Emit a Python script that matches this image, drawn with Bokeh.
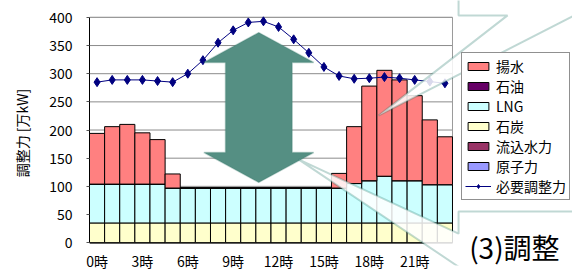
from bokeh.plotting import figure
from bokeh.models import (ColumnDataSource, FixedTicker, Legend, LegendItem,
                          PolyAnnotation, Label, Range1d)
from bokeh.embed import file_html
from bokeh.resources import INLINE

# ---- data ----
hours = [0, 1, 2, 3, 4, 5, 6, 7, 8, 9, 10, 11, 12, 13, 14, 15, 16, 17, 18, 19, 20, 21, 22, 23]
tick_hours = [0, 3, 6, 9, 12, 15, 18, 21]
tick_labels = ["0時", "3時", "6時", "9時", "12時", "15時", "18時", "21時"]
y_ticks = [0, 50, 100, 150, 200, 250, 300, 350, 400]

nuclear = [0, 0, 0, 0, 0, 0, 0, 0, 0, 0, 0, 0, 0, 0, 0, 0, 0, 0, 0, 0, 0, 0, 0, 0]        # 原子力
run_river = [0, 0, 0, 0, 0, 0, 0, 0, 0, 0, 0, 0, 0, 0, 0, 0, 0, 0, 0, 0, 0, 0, 0, 0]      # 流込水力
coal = [35, 35, 35, 35, 35, 35, 35, 35, 35, 35, 35, 35, 35, 35, 35, 35, 35, 35, 35, 35, 35, 35, 35, 35]  # 石炭
lng = [69, 69, 69, 69, 69, 62, 62, 62, 62, 62, 62, 62, 62, 62, 62, 62, 62, 70, 75, 83, 75, 75, 68, 68]  # LNG
oil = [0, 0, 0, 0, 0, 0, 0, 0, 0, 0, 0, 0, 0, 0, 0, 0, 0, 0, 0, 0, 0, 0, 0, 0]            # 石油
pumped = [90, 102, 106, 91, 79, 25, 0, 0, 0, 0, 0, 0, 0, 0, 0, 0, 26, 101, 168, 188, 179, 151, 115, 85]  # 揚水
required = [285, 289, 289, 289, 287, 285, 300, 324, 355, 377, 391, 393, 383, 361, 337, 312,
            296, 291, 292, 294, 292, 289, 286, 283]  # 必要調整力

series_names = ["原子力", "流込水力", "石炭", "LNG", "石油", "揚水"]
series_colors = ["#9999FF", "#993366", "#FFFFCC", "#CCFFFF", "#660066", "#FF8080"]

FONT = "Noto Sans CJK JP"

src = ColumnDataSource(dict(hour=hours, 原子力=nuclear, 流込水力=run_river, 石炭=coal,
                            LNG=lng, 石油=oil, 揚水=pumped, required=required))

# frame extends to the right/top/bottom edges so the overlays are not clipped;
# ranges are chosen so that the bar area sits where it does in the reference.
p = figure(width=572, height=273, output_backend="svg", toolbar_location=None,
           x_range=Range1d(-0.5, 31.434), y_range=Range1d(-40.53, 429.96),
           min_border_left=89, min_border_right=0, min_border_top=0, min_border_bottom=6)
p.background_fill_color = "white"
p.border_fill_color = "white"
p.outline_line_color = None
p.xgrid.grid_line_color = None
p.ygrid.grid_line_color = None

x_left = hours[0] - 0.5
x_right = hours[-1] + 0.5

# gridlines and plot-area border
p.segment(x0=[x_left] * len(y_ticks), x1=[x_right] * len(y_ticks), y0=y_ticks, y1=y_ticks,
          line_color="#8c8c8c", line_width=1)
p.quad(left=[x_left], right=[x_right], bottom=[y_ticks[0]], top=[y_ticks[-1]],
       fill_color=None, line_color="#9a9a9a", line_width=1)

bars = p.vbar_stack(series_names, x="hour", width=1, color=series_colors,
                    line_color="black", line_width=1, source=src)
line_r = p.line("hour", "required", source=src, line_color="#000080", line_width=1)
pts_r = p.scatter("hour", "required", source=src, marker="diamond", size=9,
                  fill_color="#000080", line_color="#000080")

# axes
p.xaxis.ticker = FixedTicker(ticks=tick_hours)
p.xaxis.major_label_overrides = {h: t for h, t in zip(tick_hours, tick_labels)}
p.xaxis.major_tick_line_color = None
p.xaxis.major_tick_out = 0
p.xaxis.major_tick_in = 0
p.xaxis.minor_tick_line_color = None
p.xaxis.axis_line_color = None
p.xaxis.major_label_standoff = -15
p.xaxis.major_label_text_font = FONT
p.xaxis.major_label_text_font_size = "14px"
p.xaxis.major_label_text_color = "black"

p.yaxis.ticker = FixedTicker(ticks=y_ticks)
p.yaxis.bounds = (y_ticks[0], y_ticks[-1])
p.yaxis.minor_tick_line_color = None
p.yaxis.major_tick_out = 3
p.yaxis.major_tick_in = 0
p.yaxis.major_tick_line_color = "#555555"
p.yaxis.axis_line_color = "black"
p.yaxis.major_label_standoff = 14
p.yaxis.major_label_text_font = FONT
p.yaxis.major_label_text_font_size = "14px"
p.yaxis.major_label_text_color = "black"
p.yaxis.axis_label = "調整力 [万kW]"
p.yaxis.axis_label_text_font = FONT
p.yaxis.axis_label_text_font_size = "14px"
p.yaxis.axis_label_text_font_style = "normal"
p.yaxis.axis_label_text_color = "black"
p.yaxis.axis_label_standoff = 14

# legend
items = [
    LegendItem(label="揚水", renderers=[bars[5]]),
    LegendItem(label="石油", renderers=[bars[4]]),
    LegendItem(label="LNG", renderers=[bars[3]]),
    LegendItem(label="石炭", renderers=[bars[2]]),
    LegendItem(label="流込水力", renderers=[bars[1]]),
    LegendItem(label="原子力", renderers=[bars[0]]),
    LegendItem(label="必要調整力", renderers=[line_r, pts_r]),
]
legend = Legend(items=items, location=(372, 65), orientation="vertical",
                glyph_width=26, glyph_height=10, label_height=16, label_standoff=5,
                spacing=0, padding=3, margin=0,
                border_line_color="#222222", border_line_width=1,
                background_fill_color="white", background_fill_alpha=1,
                label_text_font=FONT, label_text_font_size="14px", label_text_color="black")
p.add_layout(legend, "center")

# ---- overlay annotations (double arrow and callouts) ----
arrow = PolyAnnotation(
    xs=[10.69, 14.33, 12.90, 12.90, 14.33, 10.69, 7.06, 8.49, 8.49, 7.06],
    ys=[373, 320, 320, 160, 160, 107, 160, 160, 320, 320],
    fill_color="#558F83", fill_alpha=1, line_color="#3F7E72", line_width=1.5)
p.add_layout(arrow)

top_callout = PolyAnnotation(
    xs=[23.90, 23.90, 27.14, 18.61, 31.57, 40.0, 40.0],
    ys=[470, 403.5, 403.5, 225.6, 403.5, 403.5, 470],
    fill_color="white", fill_alpha=0.85, line_color="#2F7F70", line_width=2)
p.add_layout(top_callout)

bot_callout = PolyAnnotation(
    xs=[23.90, 23.90, 13.32, 23.90, 23.90, 40.0, 40.0],
    ys=[55.2, 15.9, 148.0, -42.8, -100, -100, 55.2],
    fill_color="white", fill_alpha=0.85, line_color="#2F7F70", line_width=2)
p.add_layout(bot_callout)

p.add_layout(Label(x=24.6, y=-8, text="(3)調整", text_font=FONT,
                   text_font_size="28px", text_color="black", text_baseline="alphabetic"))

open("out.html", "w").write(file_html(p, INLINE))
